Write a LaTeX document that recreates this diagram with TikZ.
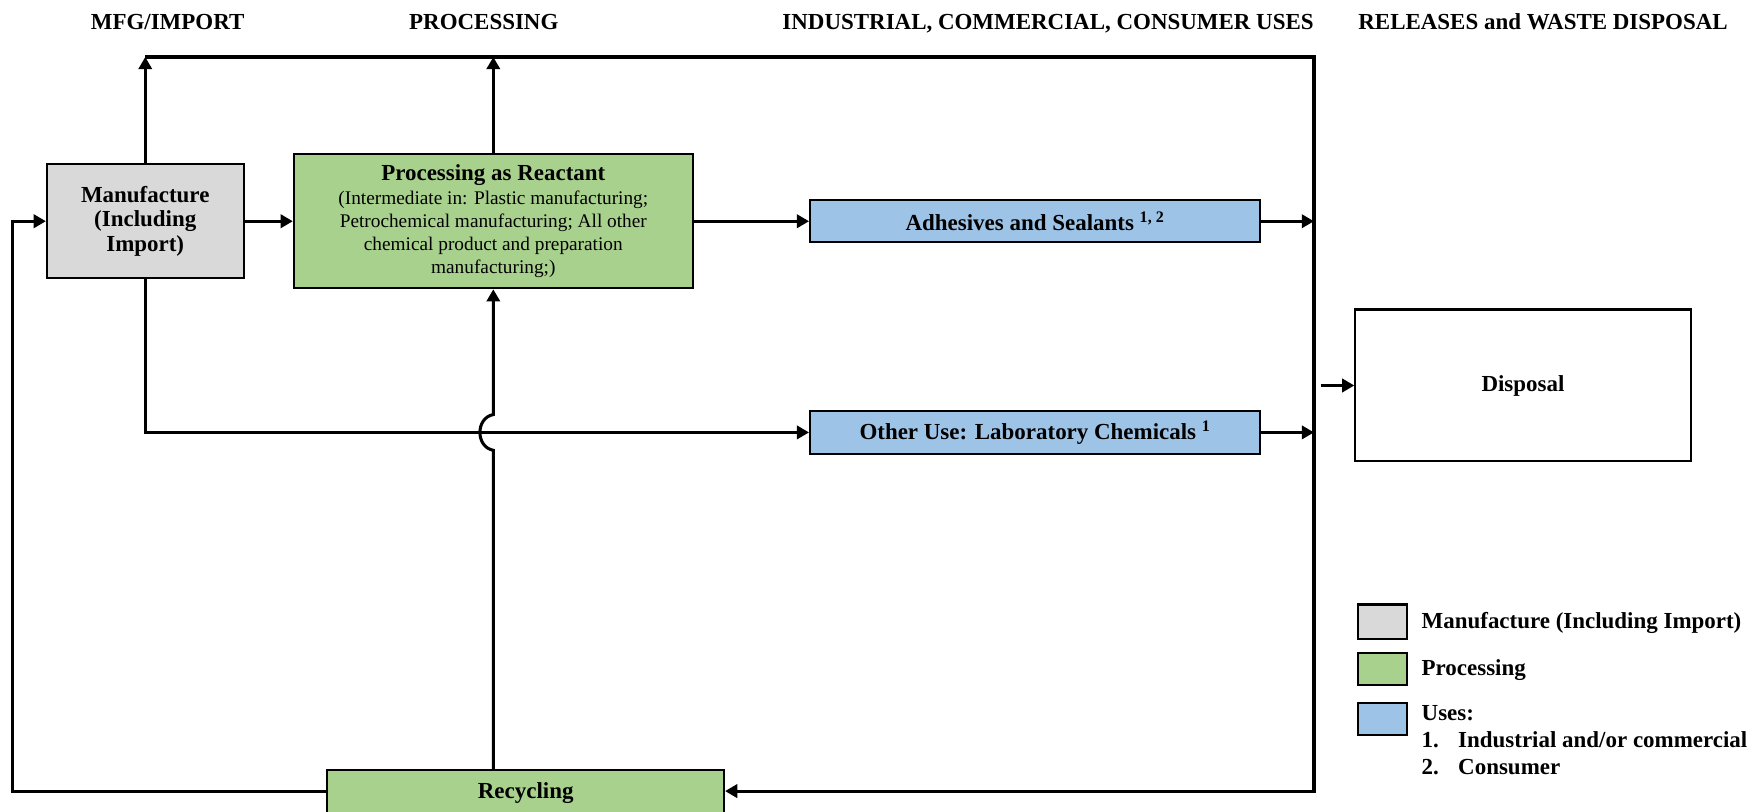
\documentclass[tikz,border=0pt]{standalone}
\usepackage{fontspec}
\setmainfont{Liberation Serif}
\usetikzlibrary{arrows.meta,calc}
\definecolor{mfggray}{HTML}{D9D9D9}
\definecolor{procgreen}{HTML}{A9D18E}
\definecolor{useblue}{HTML}{9DC3E6}
\def\upx{0.55pt}
\tikzset{
  rect/.style 2 args={minimum width=#1*\upx, minimum height=#2*\upx},
  box/.style={draw=black, line width=1pt, inner sep=0pt, align=center},
  boldtxt/.style={font=\fontsize{11.3}{12.1}\selectfont\bfseries},
  hdr/.style={boldtxt, inner sep=0pt, text height=1.5ex, text depth=.25ex},
  legtxt/.style={boldtxt, inner sep=0pt, anchor=west, text height=1.5ex, text depth=.25ex},
  flow/.style={line width=1.5pt, -{Triangle[length=6pt,width=6.5pt]}},
}
\begin{document}
\begin{tikzpicture}[x=\upx, y=-\upx]
\useasboundingbox (0,0) rectangle (1568,726);

% column headings
\node[hdr] (h1) at (150,21) {MFG/IMPORT};
\node[hdr] (h2) at (433,21) {PROCESSING};
\node[hdr] (h3) at (938,21) {INDUSTRIAL, COMMERCIAL, CONSUMER USES};
\node[hdr] (h4) at (1381,21) {RELEASES and WASTE DISPOSAL};

% life-cycle stages
\node[box, boldtxt, fill=mfggray, rect={176}{102}] (mfg) at (130,198)
  {Manufacture\\(Including\\Import)};
\node[box, fill=procgreen, rect={357}{120}, font=\fontsize{9.5}{11.3}\selectfont] (proc) at (441.5,198)
  {{\fontsize{11.3}{11.3}\selectfont\bfseries Processing as Reactant}\\[0.8pt]
   (Intermediate in: Plastic manufacturing;\\
   Petrochemical manufacturing; All other\\
   chemical product and preparation\\
   manufacturing;)};
\node[box, boldtxt, fill=useblue, rect={403}{38}] (adh) at (926.5,198)
  {Adhesives and Sealants \textsuperscript{1, 2}};
\node[box, boldtxt, fill=useblue, rect={403}{38}] (oth) at (926.5,387)
  {Other Use: Laboratory Chemicals \textsuperscript{1}};
\node[box, boldtxt, fill=white, rect={300}{136}] (disp) at (1363,345) {Disposal};
\node[box, boldtxt, fill=procgreen, rect={355}{42}] (rec) at (470.5,710) {Recycling};

% routing points
\coordinate (tl) at (130,51);
\coordinate (tr) at (1176,51);
\coordinate (br) at (1176,708);
\coordinate (ll) at (11,708);
\coordinate (dstart) at (1182,345);
\coordinate (cross) at (proc.south |- oth.west);

% connectors
\draw[flow] (mfg.north) -- (tl);
\draw[flow] (proc.north) -- (proc.north |- tl);
\draw[flow] (tl) -- (tr) -- (br) -- (br -| rec.east);
\draw[flow] (mfg) -- (proc);
\draw[flow] (proc) -- (adh);
\draw[flow] (adh.east) -- (adh.east -| tr);
\draw[flow] (mfg.south) |- (oth.west);
\draw[flow] (oth.east) -- (oth.east -| tr);
\draw[flow] (dstart) -- (disp.west);
\draw[flow] (cross |- rec.north) -- ($(cross)+(0,16)$)
  .. controls ($(cross)+(-16,13)$) and ($(cross)+(-16,-13)$) .. ($(cross)+(0,-16)$)
  -- (proc.south);
\draw[flow] (ll -| rec.west) -- (ll) |- (mfg.west);

% legend
\node[box, fill=mfggray, rect={44}{31}] (k1) at (1237,556.5) {};
\node[box, fill=procgreen, rect={44}{29}] (k2) at (1237,598.5) {};
\node[box, fill=useblue, rect={44}{29}] (k3) at (1237,643.5) {};
\node[legtxt] (t1) at (1272,557) {Manufacture (Including Import)};
\node[legtxt] (t2) at (1272,599) {Processing};
\node[legtxt] (t3) at (1272,640) {Uses:};
\node[legtxt] (t4) at (1272,664) {\makebox[18pt][l]{1.}Industrial and/or commercial};
\node[legtxt] (t5) at (1272,688) {\makebox[18pt][l]{2.}Consumer};
\end{tikzpicture}
\end{document}
